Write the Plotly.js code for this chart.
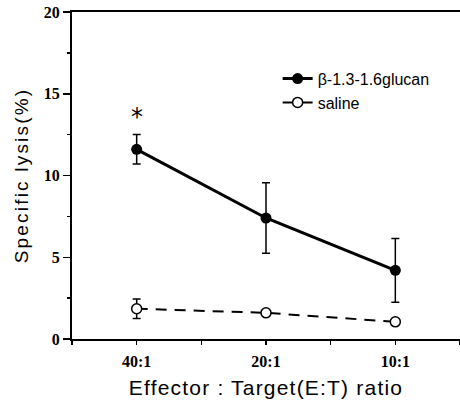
<!DOCTYPE html>
<html>
<head>
<meta charset="utf-8">
<script src="https://cdn.plot.ly/plotly-3.0.1.min.js"></script>
<style>
html,body{margin:0;padding:0;background:#fff;}
#chart{width:460px;height:400px;}
.ytitle{letter-spacing:2.2px;}
.xtitle{letter-spacing:1.2px;}
</style>
</head>
<body>
<div id="chart"></div>
<script>
// Data
const categories = ['40:1', '20:1', '10:1'];
const glucanMean = [11.6, 7.4, 4.2];
const glucanErr  = [0.9, 2.15, 1.95];
const salineMean = [1.85, 1.6, 1.05];
const salineErr  = [0.6, 0.15, 0.1];
const yTicks = [0, 5, 10, 15, 20];
const significance = ['*', '', ''];

const xIdx = categories.map((c, i) => i);

const traces = [
  {
    x: xIdx, y: glucanMean, name: 'β-1.3-1.6glucan',
    type: 'scatter', mode: 'lines+markers',
    line: {color: '#000', width: 3},
    marker: {color: '#000', size: 11, symbol: 'circle'},
    error_y: {type: 'data', array: glucanErr, visible: true, color: '#000', thickness: 1.5, width: 4}
  },
  {
    x: xIdx, y: salineMean, name: 'saline',
    type: 'scatter', mode: 'lines+markers',
    line: {color: '#000', width: 2, dash: '11px,8px'},
    marker: {color: '#fff', size: 10, symbol: 'circle', line: {color: '#000', width: 1.5}},
    error_y: {type: 'data', array: salineErr, visible: true, color: '#000', thickness: 1.5, width: 4}
  }
];

const annotations = [];
significance.forEach((s, i) => {
  if (s) annotations.push({
    x: xIdx[i], y: glucanMean[i] + glucanErr[i] + 1.1, xref: 'x', yref: 'y',
    text: s, showarrow: false, font: {family: 'DejaVu Sans, sans-serif', size: 24, color: '#000'}
  });
});

const tickFont = {family: 'Liberation Serif, Times New Roman, serif', size: 16, weight: 700, color: '#000'};

const layout = {
  width: 460, height: 400,
  margin: {l: 72, r: 0, t: 12, b: 61},
  paper_bgcolor: '#fff', plot_bgcolor: '#fff',
  showlegend: true,
  legend: {
    x: 0.53, y: 0.848, xanchor: 'left', yanchor: 'top',
    bgcolor: 'rgba(0,0,0,0)', borderwidth: 0,
    font: {family: 'Liberation Sans, Arial, sans-serif', size: 16, color: '#000'},
    tracegroupgap: 0
  },
  xaxis: {
    range: [-0.5, 2.5],
    tickmode: 'array', tickvals: xIdx, ticktext: categories,
    ticks: 'outside', ticklen: 4, tickwidth: 1.5, tickcolor: '#000',
    showline: true, linecolor: '#000', linewidth: 2, mirror: true,
    showgrid: false, zeroline: false,
    ticklabelstandoff: 3,
    tickfont: tickFont,
    minor: {tickvals: [-0.5, 0.5, 1.5, 2.5], ticks: 'outside', ticklen: 4, tickwidth: 1.5, tickcolor: '#000', showgrid: false},
    title: {text: 'Effector : Target(E:T) ratio', standoff: 11,
            font: {family: 'Liberation Sans, Arial, sans-serif', size: 21, color: '#000'}}
  },
  yaxis: {
    range: [0, 20],
    tickmode: 'array', tickvals: yTicks, ticktext: yTicks.map(String),
    ticks: 'outside', ticklen: 7, tickwidth: 1.5, tickcolor: '#000',
    showline: true, linecolor: '#000', linewidth: 2, mirror: false,
    showgrid: false, zeroline: false,
    tickfont: tickFont,
    minor: {tickvals: [2.5, 7.5, 12.5, 17.5], ticks: 'outside', ticklen: 3, tickwidth: 1.5, tickcolor: '#000', showgrid: false},
    title: {text: 'Specific lysis(%)', standoff: 10,
            font: {family: 'Liberation Sans, Arial, sans-serif', size: 19, color: '#000'}}
  },
  annotations: annotations
};

Plotly.newPlot('chart', traces, layout, {displayModeBar: false, staticPlot: true});
</script>
</body>
</html>
